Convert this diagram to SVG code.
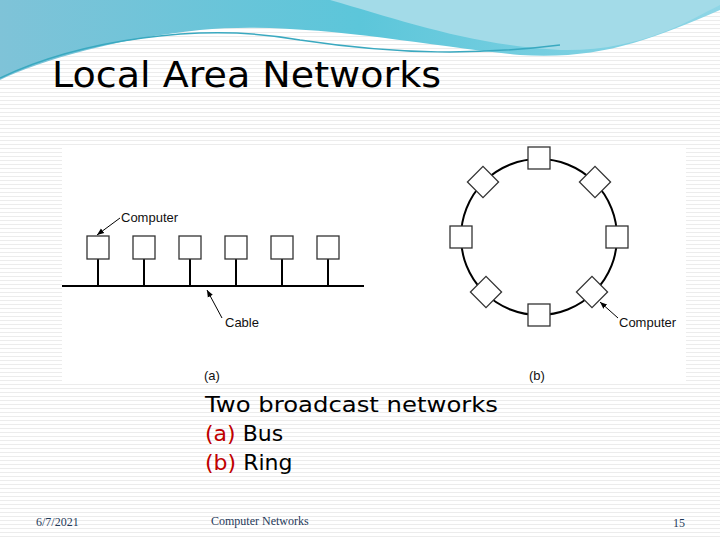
<svg xmlns="http://www.w3.org/2000/svg" width="720" height="540" viewBox="0 0 720 540">
<defs>
<pattern id="st" width="4" height="4" patternUnits="userSpaceOnUse"><rect width="4" height="4" fill="#fff"/><rect width="4" height="1" fill="#ececec"/></pattern>
<linearGradient id="sky" x1="0" y1="0" x2="1" y2="0"><stop offset="0" stop-color="#7fc3d8"/><stop offset="0.5" stop-color="#5cc6da"/><stop offset="1" stop-color="#8fd6e6"/></linearGradient>
<marker id="ah" viewBox="0 0 10 10" refX="10" refY="5" markerWidth="7" markerHeight="7" orient="auto"><path d="M0,1 L10,5 L0,9 z" fill="#000"/></marker>
<style>
.c{fill:#fff;stroke:#333;stroke-width:1.3}
.l{stroke:#000;stroke-width:2;fill:none}
.t{font-family:"Liberation Sans",Arial,sans-serif;font-size:13px;fill:#111}
.b{font-family:"DejaVu Sans",sans-serif;font-size:22px;fill:#000}
</style>
</defs>
<rect width="720" height="540" fill="url(#st)"/>
<path d="M0,0 H720 V10 C650,40 600,60 520,55 C420,45 300,20 200,30 C120,38 40,60 0,80 Z" fill="url(#sky)"/>
<path d="M330,0 C400,20 470,45 560,50 C640,52 690,20 720,5 V0 Z" fill="#a3dbe8"/>
<path d="M0,78 C80,40 200,22 300,40 C400,55 480,55 560,45" stroke="#3aa9c0" stroke-width="1.5" fill="none"/>
<text x="52" y="87" textLength="389" lengthAdjust="spacingAndGlyphs" style="font-family:'DejaVu Sans',sans-serif;font-size:36px;fill:#000">Local Area Networks</text>
<rect x="62" y="145" width="624" height="237" fill="#fff"/>
<g id="connectors">
<line class="l" x1="62" y1="286" x2="364" y2="286"/>
<line class="l" x1="98" y1="259" x2="98" y2="286"/>
<line class="l" x1="144" y1="259" x2="144" y2="286"/>
<line class="l" x1="190" y1="259" x2="190" y2="286"/>
<line class="l" x1="236" y1="259" x2="236" y2="286"/>
<line class="l" x1="282" y1="259" x2="282" y2="286"/>
<line class="l" x1="328" y1="259" x2="328" y2="286"/>
<circle class="l" cx="539" cy="237" r="78"/>
<line x1="120" y1="218" x2="97" y2="235" stroke="#000" stroke-width="1" marker-end="url(#ah)"/>
<line x1="222" y1="318" x2="207" y2="290" stroke="#000" stroke-width="1" marker-end="url(#ah)"/>
<line x1="618" y1="318" x2="600" y2="302" stroke="#000" stroke-width="1" marker-end="url(#ah)"/>
</g>
<g id="bus">
<rect class="c" x="87" y="236" width="22" height="23"/>
<rect class="c" x="133" y="236" width="22" height="23"/>
<rect class="c" x="179" y="236" width="22" height="23"/>
<rect class="c" x="225" y="236" width="22" height="23"/>
<rect class="c" x="271" y="236" width="22" height="23"/>
<rect class="c" x="317" y="236" width="22" height="23"/>
<text class="t" x="121" y="222">Computer</text>
<text class="t" x="225" y="327">Cable</text>
<text class="t" x="204" y="380">(a)</text>
</g>
<g id="ring">
<rect class="c" x="528" y="147" width="22" height="22"/>
<rect class="c" x="528" y="304" width="22" height="22"/>
<rect class="c" x="450" y="226" width="22" height="22"/>
<rect class="c" x="606" y="226" width="22" height="22"/>
<rect class="c" x="472" y="171" width="22" height="22" transform="rotate(45 483 182)"/>
<rect class="c" x="584" y="171" width="22" height="22" transform="rotate(45 595 182)"/>
<rect class="c" x="475" y="281" width="22" height="22" transform="rotate(45 486 292)"/>
<rect class="c" x="581" y="281" width="22" height="22" transform="rotate(45 592 292)"/>
<text class="t" x="619" y="327">Computer</text>
<text class="t" x="529" y="380">(b)</text>
</g>
<text class="b" x="205" y="412" textLength="293" lengthAdjust="spacingAndGlyphs">Two broadcast networks</text>
<text class="b" x="205" y="441"><tspan fill="#c00000">(a)</tspan> Bus</text>
<text class="b" x="205" y="470"><tspan fill="#c00000">(b)</tspan> Ring</text>
<g style="font-family:'Liberation Serif',serif;font-size:12px;fill:#1f3a5a">
<text x="36" y="526">6/7/2021</text>
<text x="211" y="525">Computer Networks</text>
<text x="673" y="527">15</text>
</g>
</svg>
